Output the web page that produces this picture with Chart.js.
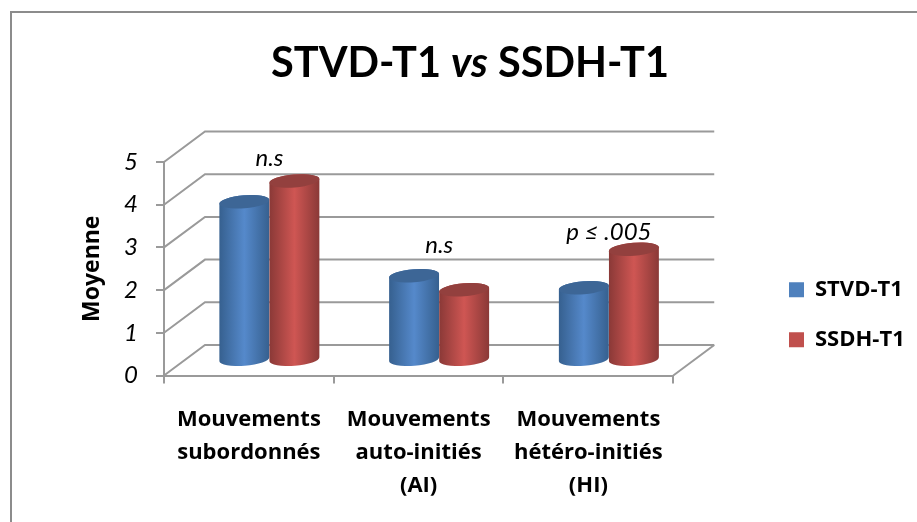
<!DOCTYPE html>
<html lang="fr">
<head>
<meta charset="utf-8">
<title>STVD-T1 vs SSDH-T1</title>
<script src="https://cdn.jsdelivr.net/npm/chart.js@4"></script>
<style>
    body { margin: 0; background: #fff; }
    canvas { display: block; }
</style>
</head>
<body>
<canvas id="moyenneChart" width="917" height="522"></canvas>
<script>
const categories = [
    ['Mouvements', 'subordonnés'],
    ['Mouvements', 'auto-initiés', '(AI)'],
    ['Mouvements', 'hétéro-initiés', '(HI)']
];
const stvdValues = [3.71, 1.98, 1.70];
const ssdhValues = [4.20, 1.65, 2.60];
const sigLabels = ['n.s', 'n.s', 'p ≤ .005'];
const sigLevels = [4.74, 2.70, 3.00];
const titleParts = [
    { text: 'STVD-T1 ', style: 'bold' },
    { text: 'vs', style: 'italic bold' },
    { text: ' SSDH-T1', style: 'bold' }
];

const FONT = 'Lato, "Open Sans", sans-serif';
const LABEL_FONT = '"Open Sans", Lato, sans-serif';
const GRID = '#9a9a9a';
// 3D look: how far the back wall sits from the front axes
const DEPTH_X = 41;
const DEPTH_Y = 30.5;

const shades = {
    0: { edge: '#36608f', mid: '#5589cb', top: '#3d6696' },
    1: { edge: '#8a3937', mid: '#cf5653', top: '#93403e' }
};

function drawCylinder(ctx, bar, shade) {
    const cx = bar.x + DEPTH_X / 2;
    const rx = bar.width / 2;
    const ry = 6.5;
    const tilt = -0.08;
    const topY = bar.y - DEPTH_Y / 2;
    const baseY = bar.base - DEPTH_Y / 2;

    const grad = ctx.createLinearGradient(cx - rx, 0, cx + rx, 0);
    grad.addColorStop(0, shade.edge);
    grad.addColorStop(0.5, shade.mid);
    grad.addColorStop(1, shade.edge);

    ctx.beginPath();
    ctx.ellipse(cx, baseY, rx, ry, tilt, Math.PI, 0, true);
    ctx.ellipse(cx, topY, rx, ry, tilt, 0, Math.PI, true);
    ctx.closePath();
    ctx.fillStyle = grad;
    ctx.fill();

    ctx.beginPath();
    ctx.ellipse(cx, topY, rx, ry, tilt, 0, Math.PI * 2);
    ctx.fillStyle = shade.top;
    ctx.fill();
}

const frame3d = {
    id: 'frame3d',
    afterLayout(chart) {
        // legend sits away from the plot, not right next to it
        const legend = chart.legend;
        legend.left = 761;
        legend.right = 917;
        legend.width = 156;
        legend.top -= 19;
        legend.bottom -= 19;
    },
    beforeDraw(chart) {
        const ctx = chart.ctx;
        ctx.save();
        ctx.strokeStyle = '#8c8c8c';
        ctx.lineWidth = 2;
        ctx.beginPath();
        ctx.moveTo(11, 522);
        ctx.lineTo(11, 12);
        ctx.lineTo(917, 12);
        ctx.stroke();
        ctx.restore();
    },
    beforeDatasetsDraw(chart) {
        const ctx = chart.ctx;
        const { left, right } = chart.chartArea;
        const y = chart.scales.y;
        ctx.save();
        ctx.strokeStyle = GRID;
        ctx.lineWidth = 2;
        y.ticks.forEach(t => {
            const py = y.getPixelForValue(t.value);
            ctx.beginPath();
            ctx.moveTo(left, py);
            ctx.lineTo(left + DEPTH_X, py - DEPTH_Y);
            ctx.lineTo(right + DEPTH_X, py - DEPTH_Y);
            ctx.stroke();
        });
        const floor = y.getPixelForValue(0);
        ctx.beginPath();
        ctx.moveTo(right, floor);
        ctx.lineTo(right + DEPTH_X, floor - DEPTH_Y);
        ctx.stroke();
        ctx.restore();
    },
    // the flat bars are replaced by cylinders
    beforeDatasetDraw() {
        return false;
    },
    afterDatasetsDraw(chart) {
        const ctx = chart.ctx;
        ctx.save();
        chart.data.datasets.forEach((ds, i) => {
            chart.getDatasetMeta(i).data.forEach(bar => drawCylinder(ctx, bar, shades[i]));
        });

        ctx.fillStyle = '#000';
        ctx.font = 'italic 24px ' + FONT;
        ctx.textAlign = 'center';
        ctx.textBaseline = 'middle';
        sigLabels.forEach((label, i) => {
            const px = chart.scales.x.getPixelForValue(i) + DEPTH_X / 2;
            const py = chart.scales.y.getPixelForValue(sigLevels[i]) - DEPTH_Y / 2;
            ctx.fillText(label, px, py);
        });

        // title has an italic word in it so Chart.js title can't do it
        ctx.textAlign = 'left';
        let total = 0;
        titleParts.forEach(p => {
            ctx.font = p.style + ' 41.5px ' + FONT;
            total += ctx.measureText(p.text).width;
        });
        let tx = 470 - total / 2;
        titleParts.forEach(p => {
            ctx.font = p.style + ' 41.5px ' + FONT;
            ctx.fillText(p.text, tx, 64);
            tx += ctx.measureText(p.text).width;
        });
        ctx.restore();
    }
};

const ctx = document.getElementById('moyenneChart').getContext('2d');
const moyenneChart = new Chart(ctx, {
    type: 'bar',
    data: {
        labels: categories,
        datasets: [
            { label: 'STVD-T1', data: stvdValues, backgroundColor: '#4f81bd' },
            { label: 'SSDH-T1', data: ssdhValues, backgroundColor: '#c0504d' }
        ]
    },
    options: {
        responsive: false,
        animation: false,
        layout: { padding: { left: 75, right: 90, top: 162, bottom: 16.5 } },
        datasets: { bar: { categoryPercentage: 0.59, barPercentage: 1 } },
        plugins: {
            title: { display: false },
            tooltip: { enabled: false },
            legend: {
                position: 'right',
                labels: {
                    boxWidth: 15,
                    boxHeight: 15,
                    padding: 28,
                    color: '#000',
                    font: { family: LABEL_FONT, size: 22, weight: 'bold' }
                }
            }
        },
        scales: {
            x: {
                afterFit(scale) { scale.height = 130; },
                grid: { drawOnChartArea: false, color: GRID, lineWidth: 2, tickLength: 8 },
                border: { color: GRID, width: 2 },
                ticks: {
                    autoSkip: false,
                    maxRotation: 0,
                    padding: 20,
                    color: '#000',
                    font: { family: LABEL_FONT, size: 22, weight: 'bold', lineHeight: 1.5 }
                }
            },
            y: {
                min: 0,
                max: 5,
                afterFit(scale) { scale.width = 89; },
                grid: { drawOnChartArea: false, color: GRID, lineWidth: 2, tickLength: 8 },
                border: { color: GRID, width: 2 },
                ticks: {
                    stepSize: 1,
                    padding: 18,
                    color: '#000',
                    font: { family: FONT, size: 24, style: 'italic' }
                },
                title: {
                    display: true,
                    text: 'Moyenne',
                    color: '#000',
                    font: { family: LABEL_FONT, size: 23, weight: 'bold' }
                }
            }
        }
    },
    plugins: [frame3d]
});
</script>
</body>
</html>
